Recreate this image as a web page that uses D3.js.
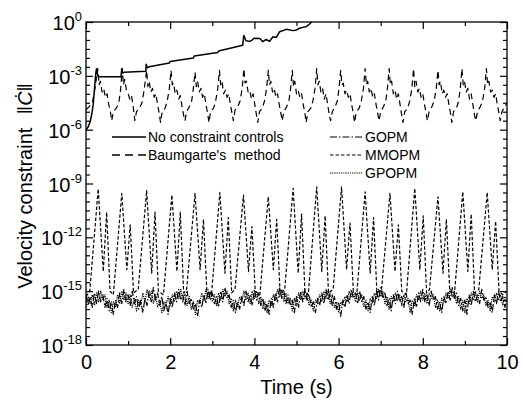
<!DOCTYPE html>
<html>
<head>
<meta charset="utf-8">
<script src="https://cdn.jsdelivr.net/npm/d3@7/dist/d3.min.js"></script>
<style>
  body { margin: 0; background: #fff; }
  text { font-family: "Liberation Sans", Arial, sans-serif; fill: #000; }
</style>
</head>
<body>
<svg id="chart" width="523" height="402"></svg>
<script>
// all curve values are log10 of ||C'||

// No constraint controls: [time, log10 value]
const noControl = [
  [0,-6.0],[0.05,-5.85],[0.1,-5.55],[0.14,-5.1],[0.17,-4.6],[0.2,-3.8],[0.23,-2.9],[0.25,-2.6],
  [0.28,-3.0],[0.31,-3.05],[0.83,-3.05],[0.85,-2.6],[0.87,-2.85],[0.9,-2.8],[1.42,-2.75],
  [1.43,-2.35],[1.46,-2.55],[1.5,-2.5],[1.98,-2.28],[2.0,-2.2],[2.55,-2.0],[2.57,-1.9],
  [3.13,-1.7],[3.15,-1.62],[3.72,-1.3],[3.75,-0.75],[3.8,-1.05],[3.89,-1.08],[3.95,-1.0],
  [4.0,-0.9],[4.13,-0.92],[4.2,-1.1],[4.28,-0.97],[4.36,-1.08],[4.44,-0.82],[4.52,-0.86],
  [4.6,-0.54],[4.76,-0.41],[4.92,-0.48],[5.0,-0.44],[5.07,-0.35],[5.15,-0.3],[5.23,-0.26],
  [5.31,-0.11],[5.4,0.1]
];

// Baumgarte's method: [time, log10 value]
const baumgarte = [
  [0,-4.9],[0.08,-4.7],[0.16,-4.4],[0.22,-3.6],
  [0.28,-2.6],[0.31,-3.5],[0.34,-3.3],[0.38,-3.9],[0.42,-3.7],[0.46,-4.2],[0.5,-4.0],[0.54,-4.6],[0.58,-5.0],[0.61,-5.5],[0.65,-5.0],[0.72,-4.8],[0.78,-4.5],[0.82,-3.8],
  [0.86,-2.6],[0.89,-3.5],[0.92,-3.2],[0.96,-3.8],[1.0,-4.0],[1.04,-4.3],[1.08,-4.1],[1.12,-4.7],[1.16,-5.5],[1.2,-5.0],[1.27,-4.8],[1.33,-4.5],[1.38,-3.8],
  [1.44,-2.7],[1.47,-3.6],[1.5,-3.3],[1.54,-3.9],[1.58,-3.7],[1.62,-4.2],[1.66,-4.0],[1.7,-4.6],[1.74,-5.1],[1.77,-5.6],[1.81,-5.0],[1.88,-4.8],[1.93,-4.4],[1.98,-3.7],
  [2.02,-2.7],[2.05,-3.5],[2.08,-3.4],[2.12,-4.0],[2.16,-3.8],[2.2,-4.3],[2.24,-4.1],[2.28,-4.7],[2.32,-5.2],[2.35,-5.5],[2.39,-5.0],[2.46,-4.7],[2.51,-4.4],[2.55,-3.7],
  [2.59,-2.8],[2.62,-3.6],[2.65,-3.3],[2.69,-3.9],[2.73,-3.7],[2.77,-4.2],[2.81,-4.0],[2.85,-4.6],[2.89,-5.1],[2.92,-5.6],[2.96,-5.0],[3.03,-4.8],[3.08,-4.4],[3.13,-3.7],
  [3.17,-2.7],[3.2,-3.5],[3.23,-3.3],[3.27,-4.0],[3.31,-3.8],[3.35,-4.2],[3.39,-4.0],[3.43,-4.6],[3.47,-5.1],[3.5,-5.5],[3.54,-4.9],[3.61,-4.7],[3.66,-4.4],[3.71,-3.7],
  [3.75,-2.6],[3.78,-3.4],[3.81,-3.3],[3.85,-3.9],[3.89,-3.8],[3.93,-4.3],[3.97,-4.0],[4.01,-4.6],[4.05,-5.2],[4.08,-5.6],[4.12,-5.0],[4.19,-4.8],[4.24,-4.4],[4.29,-3.7],
  [4.33,-2.7],[4.36,-3.5],[4.39,-3.3],[4.43,-3.9],[4.47,-3.7],[4.51,-4.2],[4.55,-4.0],[4.59,-4.6],[4.63,-5.1],[4.66,-5.5],[4.7,-5.0],[4.77,-4.7],[4.82,-4.4],[4.86,-3.7],
  [4.9,-2.7],[4.93,-3.6],[4.96,-3.3],[5.0,-4.0],[5.04,-3.8],[5.08,-4.2],[5.12,-4.0],[5.16,-4.6],[5.2,-5.1],[5.23,-5.6],[5.27,-5.0],[5.34,-4.8],[5.39,-4.4],[5.44,-3.7],
  [5.48,-2.6],[5.51,-3.5],[5.54,-3.3],[5.58,-3.9],[5.62,-3.7],[5.66,-4.3],[5.7,-4.0],[5.74,-4.6],[5.78,-5.2],[5.81,-5.5],[5.85,-5.0],[5.92,-4.7],[5.97,-4.4],[6.01,-3.7],
  [6.05,-2.7],[6.08,-3.5],[6.11,-3.4],[6.15,-4.0],[6.19,-3.8],[6.23,-4.2],[6.27,-4.0],[6.31,-4.6],[6.35,-5.1],[6.38,-5.6],[6.42,-5.0],[6.49,-4.8],[6.54,-4.4],[6.59,-3.7],
  [6.63,-2.6],[6.66,-3.5],[6.69,-3.3],[6.73,-3.9],[6.77,-3.7],[6.81,-4.2],[6.85,-4.0],[6.89,-4.6],[6.93,-5.1],[6.96,-5.5],[7.0,-5.0],[7.07,-4.7],[7.12,-4.4],[7.16,-3.7],
  [7.2,-2.6],[7.23,-3.5],[7.26,-3.3],[7.3,-4.0],[7.34,-3.8],[7.38,-4.3],[7.42,-4.0],[7.46,-4.6],[7.5,-5.2],[7.53,-5.6],[7.57,-5.0],[7.64,-4.8],[7.69,-4.4],[7.74,-3.7],
  [7.78,-2.6],[7.81,-3.6],[7.84,-3.3],[7.88,-3.9],[7.92,-3.7],[7.96,-4.2],[8.0,-4.0],[8.04,-4.6],[8.08,-5.1],[8.11,-5.5],[8.15,-5.0],[8.22,-4.7],[8.27,-4.4],[8.32,-3.7],
  [8.36,-2.7],[8.39,-3.5],[8.42,-3.3],[8.46,-4.0],[8.5,-3.8],[8.54,-4.2],[8.58,-4.0],[8.62,-4.6],[8.66,-5.1],[8.69,-5.6],[8.73,-5.0],[8.8,-4.8],[8.85,-4.4],[8.89,-3.7],
  [8.93,-2.6],[8.96,-3.5],[8.99,-3.3],[9.03,-3.9],[9.07,-3.7],[9.11,-4.3],[9.15,-4.0],[9.19,-4.6],[9.23,-5.2],[9.26,-5.5],[9.3,-5.0],[9.37,-4.7],[9.42,-4.4],[9.47,-3.7],
  [9.51,-2.6],[9.54,-3.5],[9.57,-3.3],[9.61,-3.9],[9.65,-3.8],[9.69,-4.2],[9.73,-4.0],[9.77,-4.6],[9.81,-5.1],[9.84,-5.5],[9.88,-5.0],[9.95,-4.7],[10.0,-4.5]
];

// MMOPM: [time, log10 value]
const mmopm = [
  [0,-15.3],[0.09,-15.0],
  [0.29,-9.3],[0.41,-13.9],[0.49,-10.6],[0.57,-15.0],[0.65,-15.2],
  [0.85,-9.55],[0.97,-13.8],[1.05,-11.3],[1.13,-15.1],[1.24,-14.9],
  [1.44,-9.4],[1.56,-14.0],[1.64,-10.6],[1.72,-15.0],[1.84,-15.2],
  [2.04,-9.64],[2.16,-13.9],[2.24,-10.6],[2.32,-15.1],[2.39,-14.9],
  [2.59,-9.55],[2.71,-13.8],[2.79,-11.0],[2.87,-15.0],[2.98,-15.2],
  [3.18,-9.5],[3.3,-14.0],[3.38,-10.9],[3.46,-15.1],[3.54,-14.9],
  [3.74,-9.64],[3.86,-13.9],[3.94,-11.4],[4.02,-15.0],[4.13,-15.2],
  [4.33,-9.74],[4.45,-13.8],[4.53,-11.0],[4.61,-15.1],[4.72,-14.9],
  [4.92,-9.27],[5.04,-14.0],[5.12,-10.7],[5.2,-15.0],[5.28,-15.2],
  [5.48,-9.18],[5.6,-13.9],[5.68,-10.8],[5.76,-15.1],[5.87,-14.9],
  [6.07,-9.18],[6.19,-13.8],[6.27,-11.2],[6.35,-15.0],[6.43,-15.2],
  [6.63,-9.46],[6.75,-14.0],[6.83,-10.9],[6.91,-15.1],[7.02,-14.9],
  [7.22,-9.55],[7.34,-13.9],[7.42,-11.3],[7.5,-15.0],[7.61,-15.2],
  [7.81,-9.27],[7.93,-13.8],[8.01,-10.8],[8.09,-15.1],[8.16,-14.9],
  [8.36,-9.74],[8.48,-14.0],[8.56,-11.0],[8.64,-15.0],[8.75,-15.2],
  [8.95,-9.46],[9.07,-13.9],[9.15,-10.7],[9.23,-15.1],[9.33,-14.9],
  [9.53,-9.5],[9.65,-13.8],[9.73,-11.1],[9.81,-15.0],[9.9,-15.2],[10,-15.0]
];

// GOPM and GPOPM are sampled every 0.05 s from t = 0 to 10
const sampleStep = 0.05;
const gopm = [
  -15.2,-15.8,-15.3,-15.9,-15.1,-15.7,-15.0,-15.6,-15.2,-15.9,-15.4,-16.1,-15.6,-16.3,-15.5,-15.9,-15.1,-15.7,-14.9,-15.6,
  -15.2,-15.8,-15.0,-15.7,-15.3,-16.0,-15.5,-16.2,-15.4,-15.8,-15.0,-15.6,-14.8,-15.5,-15.1,-15.8,-15.3,-16.1,-15.6,-16.3,
  -15.4,-15.9,-15.1,-15.6,-14.9,-15.5,-15.2,-15.8,-15.0,-15.7,-15.4,-16.0,-15.7,-16.4,-15.5,-15.9,-15.2,-15.7,-14.9,-15.5,
  -15.1,-15.7,-15.3,-15.9,-15.0,-15.6,-14.8,-15.4,-15.2,-15.9,-15.5,-16.2,-15.6,-16.0,-15.3,-15.8,-15.0,-15.6,-15.2,-15.8,
  -14.9,-15.5,-15.1,-15.8,-15.4,-16.1,-15.7,-16.3,-15.4,-15.9,-15.1,-15.6,-14.8,-15.4,-15.0,-15.7,-15.2,-15.8,-15.5,-16.2,
  -15.3,-15.9,-15.0,-15.6,-14.9,-15.5,-15.2,-15.9,-15.6,-16.2,-15.4,-15.8,-15.1,-15.7,-14.9,-15.5,-15.1,-15.8,-15.3,-16.0,
  -15.6,-16.4,-15.5,-15.9,-15.2,-15.7,-14.9,-15.4,-15.1,-15.7,-15.0,-15.6,-15.3,-16.0,-15.6,-16.2,-15.3,-15.8,-15.0,-15.5,
  -14.8,-15.4,-15.1,-15.8,-15.4,-16.1,-15.2,-15.7,-15.0,-15.6,-15.3,-15.9,-15.1,-15.7,-15.5,-16.3,-15.4,-15.9,-15.1,-15.6,
  -14.9,-15.6,-15.2,-15.8,-15.0,-15.5,-15.3,-16.0,-15.6,-16.2,-15.3,-15.7,-15.0,-15.5,-14.8,-15.4,-15.1,-15.8,-15.4,-16.1,
  -15.5,-16.3,-15.2,-15.8,-15.0,-15.6,-15.2,-15.7,-14.9,-15.5,-15.3,-15.9,-15.6,-16.2,-15.2,-15.7,-15.0,-15.6,-15.3,-15.9,-15.4
];
const gpopm = [
  -15.9,-15.3,-15.7,-15.2,-15.8,-15.1,-15.6,-15.0,-15.5,-15.2,-15.9,-15.5,-16.2,-15.6,-15.9,-15.2,-15.7,-15.0,-15.5,-15.1,
  -15.7,-15.2,-15.9,-15.4,-16.1,-15.5,-15.8,-15.1,-15.6,-14.9,-15.4,-15.0,-15.7,-15.2,-15.9,-15.5,-16.2,-15.6,-15.8,-15.3,
  -15.8,-15.2,-15.6,-15.0,-15.4,-14.9,-15.6,-15.1,-15.8,-15.3,-16.0,-15.6,-16.3,-15.5,-15.7,-15.1,-15.5,-14.9,-15.4,-15.0,
  -15.6,-15.2,-15.8,-15.1,-15.5,-14.9,-15.3,-15.0,-15.7,-15.4,-16.1,-15.5,-15.9,-15.3,-15.6,-15.0,-15.5,-15.1,-15.7,-15.0,
  -15.4,-15.0,-15.7,-15.3,-16.0,-15.6,-16.2,-15.5,-15.8,-15.2,-15.5,-14.9,-15.3,-14.9,-15.6,-15.1,-15.7,-15.4,-16.1,-15.4,
  -15.8,-15.1,-15.5,-15.0,-15.4,-15.1,-15.8,-15.5,-16.1,-15.5,-15.7,-15.2,-15.6,-15.0,-15.4,-15.0,-15.7,-15.2,-15.9,-15.6,
  -16.2,-15.6,-15.8,-15.3,-15.6,-15.0,-15.3,-15.0,-15.6,-15.1,-15.5,-15.2,-15.9,-15.5,-16.1,-15.4,-15.7,-15.1,-15.4,-14.9,
  -15.3,-15.0,-15.7,-15.3,-16.0,-15.3,-15.6,-15.1,-15.5,-15.2,-15.8,-15.2,-15.6,-15.4,-16.2,-15.5,-15.8,-15.2,-15.5,-15.0,
  -15.5,-15.1,-15.7,-15.1,-15.4,-15.2,-15.9,-15.5,-16.1,-15.4,-15.6,-15.1,-15.4,-14.9,-15.3,-15.0,-15.7,-15.3,-16.0,-15.5,
  -16.2,-15.4,-15.7,-15.1,-15.5,-15.1,-15.6,-15.0,-15.4,-15.2,-15.8,-15.5,-16.1,-15.3,-15.6,-15.1,-15.5,-15.2,-15.8,-15.3,-15.6
];

const xMajorTicks = [0, 2, 4, 6, 8, 10];
const xMinorTicks = [1, 3, 5, 7, 9];
const yMajorExp = [0, -3, -6, -9, -12, -15, -18];
const yMinorExp = [-0.5,-1,-1.5,-2,-2.5,-3.5,-4,-4.5,-5,-5.5,-6.5,-7,-7.5,-8,-8.5,-9.5,-10,-10.5,-11,-11.5,
                   -12.5,-13,-13.5,-14,-14.5,-15.5,-16,-16.5,-17,-17.5];

const legendLeft = ["No constraint controls", "Baumgarte's  method"];
const legendRight = ["GOPM", "MMOPM", "GPOPM"];

const svg = d3.select('#chart');
const plotLeft = 86, plotRight = 507, plotTop = 22, plotBottom = 345;

const x = d3.scaleLinear().domain([0, 10]).range([plotLeft, plotRight]);
const y = d3.scaleLog().domain([1e-18, 1]).range([plotBottom, plotTop]);

svg.append('defs').append('clipPath').attr('id', 'plotclip')
  .append('rect').attr('x', plotLeft).attr('y', plotTop)
  .attr('width', plotRight - plotLeft).attr('height', plotBottom - plotTop);

const line = d3.line()
  .x(d => x(d[0]))
  .y(d => y(Math.pow(10, d[1])));

const toPairs = arr => arr.map((v, i) => [i * sampleStep, v]);

const plot = svg.append('g').attr('clip-path', 'url(#plotclip)');

function drawCurve(data, dash, width) {
  plot.append('path')
    .datum(data)
    .attr('d', line)
    .attr('fill', 'none')
    .attr('stroke', '#000')
    .attr('stroke-width', width)
    .attr('stroke-dasharray', dash)
    .attr('stroke-linejoin', 'round');
}

drawCurve(toPairs(gopm), '7,2,1.5,2', 1.2);
drawCurve(toPairs(gpopm), '1.2,1', 1.2);
drawCurve(mmopm, '3.5,2', 1.2);
drawCurve(baumgarte, '6,4', 1.2);
drawCurve(noControl, null, 1.5);

// axes: ticks point inward, mirrored on top and right
function styleAxis(g) {
  g.select('.domain').remove();
  g.selectAll('line').attr('stroke', '#000').attr('stroke-width', 1.2);
}

svg.append('g').attr('transform', 'translate(0,' + plotBottom + ')')
  .call(d3.axisBottom(x).tickValues(xMajorTicks).tickSizeInner(-7).tickSizeOuter(0).tickPadding(10))
  .call(styleAxis)
  .selectAll('text')
    .attr('font-size', 20)
    .attr('font-family', '"Liberation Sans", Arial, sans-serif');
svg.append('g').attr('transform', 'translate(0,' + plotBottom + ')')
  .call(d3.axisBottom(x).tickValues(xMinorTicks).tickSizeInner(-4).tickSizeOuter(0).tickFormat(''))
  .call(styleAxis);
svg.append('g').attr('transform', 'translate(0,' + plotTop + ')')
  .call(d3.axisTop(x).tickValues(xMajorTicks).tickSizeInner(-7).tickSizeOuter(0).tickFormat(''))
  .call(styleAxis);
svg.append('g').attr('transform', 'translate(0,' + plotTop + ')')
  .call(d3.axisTop(x).tickValues(xMinorTicks).tickSizeInner(-4).tickSizeOuter(0).tickFormat(''))
  .call(styleAxis);

const yMaj = yMajorExp.map(e => Math.pow(10, e));
const yMin = yMinorExp.map(e => Math.pow(10, e));
[[plotLeft, d3.axisLeft], [plotRight, d3.axisRight]].forEach(([pos, axisFn]) => {
  svg.append('g').attr('transform', 'translate(' + pos + ',0)')
    .call(axisFn(y).tickValues(yMaj).tickSizeInner(-7).tickSizeOuter(0).tickFormat(''))
    .call(styleAxis);
  svg.append('g').attr('transform', 'translate(' + pos + ',0)')
    .call(axisFn(y).tickValues(yMin).tickSizeInner(-4).tickSizeOuter(0).tickFormat(''))
    .call(styleAxis);
});

// y tick labels as 10 with superscript exponent
yMajorExp.forEach(e => {
  const t = svg.append('text')
    .attr('x', plotLeft - 4)
    .attr('y', y(Math.pow(10, e)) + 8)
    .attr('text-anchor', 'end')
    .attr('font-size', 20);
  t.append('tspan').text('10');
  t.append('tspan').attr('font-size', 13).attr('dy', -9).text(e === 0 ? '0' : '-' + Math.abs(e));
});

// frame
svg.append('rect')
  .attr('x', plotLeft).attr('y', plotTop)
  .attr('width', plotRight - plotLeft).attr('height', plotBottom - plotTop)
  .attr('fill', 'none').attr('stroke', '#000').attr('stroke-width', 1.3);

// axis titles
svg.append('text')
  .attr('x', (plotLeft + plotRight) / 2)
  .attr('y', 394)
  .attr('text-anchor', 'middle')
  .attr('font-size', 20)
  .text('Time (s)');

const yTitle = svg.append('text')
  .attr('transform', 'translate(32,' + 186 + ') rotate(-90)')
  .attr('text-anchor', 'middle')
  .attr('font-size', 20);
yTitle.append('tspan').text('Velocity constraint ');
yTitle.append('tspan').attr('dx', 8).text('\u2016');
yTitle.append('tspan').attr('font-style', 'italic').text('\u010A');
yTitle.append('tspan').text('\u2016');

// legend
const legendRows = [137, 155, 173];
const leftStyles = [null, '8,5'];
legendLeft.forEach((name, i) => {
  svg.append('line')
    .attr('x1', 112).attr('x2', 146)
    .attr('y1', legendRows[i]).attr('y2', legendRows[i])
    .attr('stroke', '#000').attr('stroke-width', 1.3)
    .attr('stroke-dasharray', leftStyles[i]);
  svg.append('text')
    .attr('x', 148).attr('y', legendRows[i] + 5)
    .attr('font-size', 14)
    .style('white-space', 'pre')
    .text(name);
});
const rightStyles = ['7,2,1.5,2', '3.5,2', '1.2,1'];
legendRight.forEach((name, i) => {
  svg.append('line')
    .attr('x1', 330).attr('x2', 362)
    .attr('y1', legendRows[i]).attr('y2', legendRows[i])
    .attr('stroke', '#000').attr('stroke-width', 1.2)
    .attr('stroke-dasharray', rightStyles[i]);
  svg.append('text')
    .attr('x', 365).attr('y', legendRows[i] + 5)
    .attr('font-size', 14)
    .text(name);
});
</script>
</body>
</html>
